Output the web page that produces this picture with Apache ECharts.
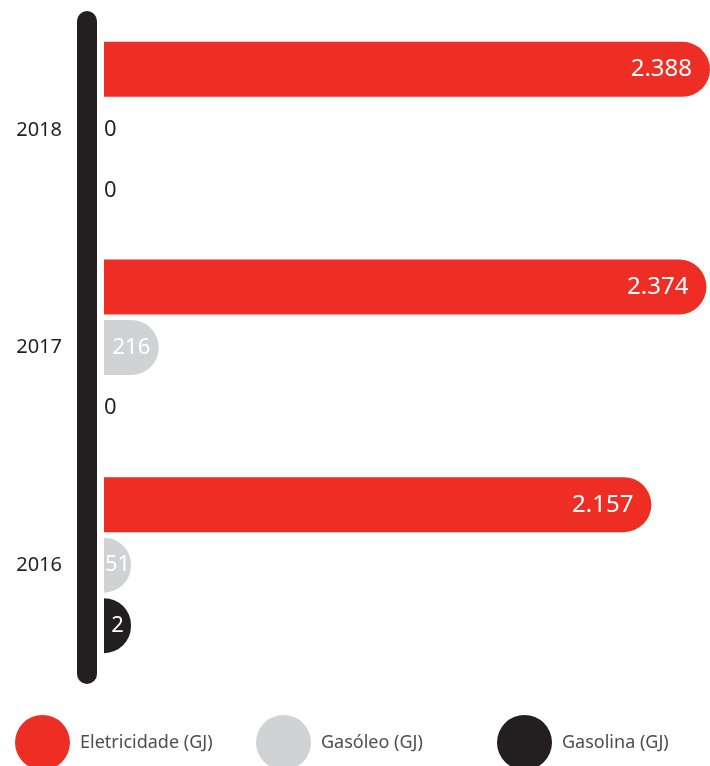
<!DOCTYPE html>
<html><head><meta charset="utf-8">
<script src="https://cdn.jsdelivr.net/npm/echarts@6/dist/echarts.min.js"></script>
<style>html,body{margin:0;padding:0;background:#fff}#c{width:710px;height:766px}</style>
</head><body><div id="c"></div>
<script>
const categories = ['2018', '2017', '2016'];
const eletricidade = [2388, 2374, 2157];
const gasoleo = [0, 216, 51];
const gasolina = [0, 0, 2];
const seriesNames = ['Eletricidade (GJ)', 'Gasóleo (GJ)', 'Gasolina (GJ)'];
const colors = ['#ee2e24', '#d1d2d4', '#231f20'];

const FONT = 'Noto Sans';
function fmt(v) { return String(v).replace(/\B(?=(\d{3})+(?!\d))/g, '.'); }
function items(arr) {
  return arr.map(v => v === 0 ? {
    value: v,
    itemStyle: { color: 'rgba(0,0,0,0)' },
    label: { position: 'insideLeft', distance: 0, color: '#231f20', fontSize: 22 }
  } : v);
}
function mkSeries(i, arr, labelPos, dist, size) {
  return {
    name: seriesNames[i], type: 'bar', data: items(arr),
    barWidth: 55, barGap: '10%', barMinHeight: 27,
    itemStyle: { color: colors[i], borderRadius: [0, 27.5, 27.5, 0] },
    label: { show: true, position: labelPos, distance: dist, color: '#fff',
      fontFamily: FONT, fontSize: size, formatter: p => fmt(p.value) }
  };
}
const chart = echarts.init(document.getElementById('c'));
chart.setOption({
  animation: false,
  grid: { left: 104, right: 0, top: 21, height: 653 },
  xAxis: { type: 'value', min: 0, max: 2388, show: false },
  yAxis: {
    type: 'category', data: categories, inverse: true, offset: 17,
    axisLine: { onZero: false, lineStyle: { color: '#231f20', width: 20, cap: 'round' } },
    axisTick: { show: false },
    axisLabel: { margin: 25, color: '#231f20', fontFamily: FONT, fontSize: 20 }
  },
  legend: [0, 1, 2].map(i => ({
    data: [seriesNames[i]], left: [15, 256, 497][i], top: 715, padding: 0,
    icon: 'circle', itemWidth: 55, itemHeight: 55,
    textStyle: { color: '#4d4d4d', fontFamily: FONT, fontSize: 18, padding: [0, 0, 0, 5] }
  })),
  series: [
    mkSeries(0, eletricidade, 'insideRight', 18, 24),
    mkSeries(1, gasoleo, 'inside', 0, 22),
    mkSeries(2, gasolina, 'inside', 0, 22)
  ]
});
</script></body></html>
